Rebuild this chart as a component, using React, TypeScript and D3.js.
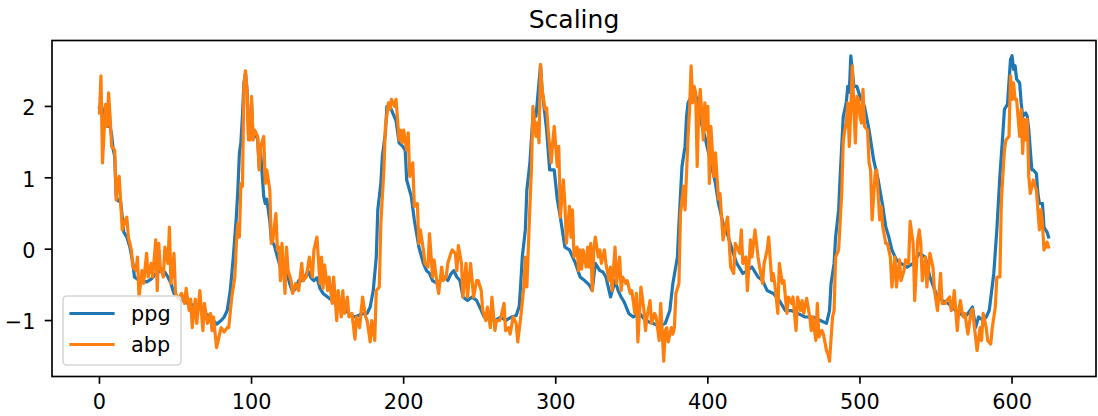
import React from "react";
import * as d3 from "d3";

// Figure geometry (px)
const WIDTH = 1098;
const HEIGHT = 416;
const PLOT = { left: 52, right: 1096, top: 40.5, bottom: 376.5 };

const title = "Scaling";
const seriesLabels = ["ppg", "abp"];
const seriesColors = ["#1f77b4", "#ff7f0e"];
const xTickValues = [0, 100, 200, 300, 400, 500, 600];
const yTickValues = [-1, 0, 1, 2];

// [sample index, scaled value]
const ppg: [number, number][] = [
  [0, 1.99], [1, 2.05], [2, 1.95], [3, 1.75], [5, 1.72], [7, 1.72], [8, 1.6], [9, 1.4], [10, 1.3],
  [11, 0.75], [12, 0.68], [14, 0.66], [15, 0.45], [16, 0.24], [18, 0.17], [20, 0.03], [22, -0.2],
  [23, -0.39], [25, -0.42], [28, -0.44], [31, -0.46], [34, -0.42], [37, -0.35], [40, -0.3],
  [43, -0.32], [45, -0.39], [47, -0.48], [49, -0.62], [52, -0.68], [55, -0.72], [58, -0.76],
  [61, -0.78], [65, -0.81], [68, -0.88], [71, -0.92], [74, -0.98], [77, -1.05], [80, -1.0],
  [82, -0.95], [84, -0.86], [86, -0.58], [88, -0.11], [90, 0.45], [91, 0.83], [92, 1.34],
  [93, 1.5], [94, 1.86], [95, 2.33], [96, 2.47], [97, 2.24], [98, 1.6], [99, 1.55], [100, 2.05],
  [101, 1.55], [102, 1.62], [104, 1.55], [105, 1.15], [106, 1.35], [108, 0.74], [109, 0.64],
  [110, 0.7], [112, 0.4], [113, 0.13], [115, 0.05], [117, -0.11], [119, -0.25], [121, -0.2],
  [123, -0.3], [125, -0.48], [127, -0.6], [129, -0.55], [131, -0.44], [134, -0.44], [137, -0.3],
  [139, -0.4], [141, -0.44], [143, -0.4], [145, -0.55], [147, -0.62], [150, -0.67], [153, -0.72],
  [156, -0.78], [159, -0.82], [162, -0.86], [165, -0.92], [168, -0.95], [171, -0.92], [174, -0.9],
  [176, -0.9], [178, -0.81], [180, -0.58], [182, -0.11], [183, 0.55], [185, 0.92], [186, 1.3],
  [188, 1.63], [189, 2.0], [191, 2.0], [193, 1.9], [195, 1.8], [197, 1.49], [199, 1.45],
  [201, 1.39], [202, 0.97], [205, 0.74], [207, 0.41], [210, 0.03], [213, -0.2], [215, -0.3],
  [217, -0.34], [219, -0.44], [222, -0.48], [224, -0.44], [227, -0.39], [229, -0.44], [231, -0.35],
  [233, -0.3], [235, -0.39], [237, -0.44], [239, -0.67], [242, -0.72], [245, -0.67], [248, -0.72],
  [250, -0.81], [253, -0.95], [256, -0.98], [260, -1.0], [264, -0.95], [267, -1.0], [271, -0.95],
  [274, -0.93], [276, -0.8], [277, -0.48], [278, -0.11], [280, 0.27], [281, 0.83], [283, 1.21],
  [285, 1.86], [287, 1.86], [288, 2.1], [290, 2.58], [291, 2.24], [294, 1.67], [296, 1.11],
  [299, 1.11], [301, 0.7], [303, 0.45], [306, 0.03], [309, -0.01], [313, -0.2], [316, -0.39],
  [319, -0.44], [322, -0.5], [324, -0.58], [326, -0.2], [329, -0.3], [331, -0.32], [333, -0.39],
  [336, -0.67], [339, -0.44], [341, -0.58], [343, -0.67], [345, -0.74], [348, -0.9], [351, -0.95],
  [355, -0.9], [359, -1.0], [364, -1.04], [368, -1.08], [372, -1.04], [375, -0.86], [377, -0.48],
  [380, -0.11], [381, 0.36], [383, 1.16], [384, 1.3], [385, 1.44], [386, 1.86], [387, 2.05],
  [389, 2.14], [391, 2.2], [393, 2.1], [395, 1.82], [398, 1.58], [400, 1.39], [403, 1.11],
  [405, 0.92], [407, 0.64], [410, 0.36], [413, 0.2], [416, -0.01], [419, -0.2], [423, -0.34],
  [426, -0.3], [429, -0.25], [433, -0.39], [436, -0.44], [439, -0.58], [443, -0.62], [447, -0.72],
  [451, -0.86], [455, -0.86], [459, -0.9], [464, -0.95], [469, -0.95], [474, -1.0], [478, -1.04],
  [480, -0.86], [481, -0.48], [483, -0.2], [484, 0.17], [486, 0.55], [487, 1.02], [489, 1.85],
  [491, 2.05], [492, 2.28], [493, 2.2], [494, 2.71], [496, 2.28], [498, 2.28], [500, 2.14],
  [503, 2.0], [506, 1.67], [509, 1.25], [512, 0.97], [515, 0.6], [517, 0.31], [519, 0.17],
  [521, -0.01], [524, -0.15], [527, -0.2], [531, -0.25], [535, -0.2], [539, -0.06], [543, -0.11],
  [546, -0.39], [550, -0.62], [554, -0.72], [558, -0.76], [563, -0.86], [566, -0.9], [569, -0.95],
  [571, -0.9], [574, -0.81], [576, -1.1], [578, -0.95], [581, -1.0], [583, -0.95], [585, -0.86],
  [588, -0.34], [590, 0.27], [592, 1.02], [594, 1.63], [595, 1.96], [597, 2.03], [599, 2.66],
  [600, 2.71], [601, 2.52], [602, 2.57], [603, 2.38], [605, 2.33], [606, 2.05], [607, 1.86],
  [609, 1.91], [610, 1.86], [611, 1.67], [613, 1.11], [614, 1.11], [616, 1.06], [617, 0.78],
  [618, 0.64], [620, 0.64], [621, 0.31], [622, 0.27], [623, 0.24], [624, 0.17],
];

const abp: [number, number][] = [
  [0, 1.91], [1, 2.43], [2, 1.21], [4, 2.03], [5, 1.72], [6, 2.19], [7, 1.86], [8, 1.44], [10, 1.39],
  [11, 0.69], [12, 0.93], [13, 1.02], [14, 0.64], [15, 0.27], [17, 0.41], [18, 0.45], [19, 0.17],
  [21, -0.01], [22, -0.25], [24, -0.3], [25, -0.11], [26, -0.67], [28, -0.3], [29, -0.48],
  [31, -0.06], [32, -0.39], [34, -0.2], [35, -0.39], [37, 0.13], [38, -0.58], [39, 0.08],
  [40, -0.25], [42, -0.39], [43, 0.03], [45, -0.2], [46, 0.31], [47, -0.48], [49, -0.06],
  [50, -0.62], [51, -0.67], [52, -0.69], [54, -0.62], [56, -0.76], [57, -0.55], [59, -0.86],
  [60, -0.7], [61, -1.1], [63, -0.7], [64, -1.04], [66, -0.58], [68, -1.14], [69, -0.76],
  [71, -1.04], [73, -0.9], [74, -1.14], [75, -0.95], [77, -1.38], [79, -1.19], [80, -1.1],
  [82, -1.16], [84, -1.1], [85, -1.1], [87, -0.67], [89, -0.39], [90, 0.08], [91, 0.36], [92, 0.17],
  [93, 0.92], [94, 0.88], [95, 2.3], [96, 2.5], [97, 2.24], [98, 1.53], [99, 1.53], [100, 2.14],
  [101, 1.53], [102, 1.67], [104, 1.58], [105, 1.11], [106, 1.44], [108, 1.58], [109, 0.92],
  [110, 1.11], [112, 0.83], [113, 0.08], [114, 0.13], [116, 0.5], [117, -0.01], [118, 0.03],
  [119, -0.44], [120, 0.08], [122, -0.62], [123, 0.03], [124, -0.3], [126, -0.44], [127, -0.62],
  [129, -0.48], [131, -0.58], [133, -0.2], [134, -0.44], [136, -0.39], [138, -0.11], [140, -0.39],
  [141, -0.01], [143, 0.17], [145, -0.48], [146, -0.11], [147, -0.55], [148, -0.22], [150, -0.58],
  [151, -0.39], [153, -0.76], [154, -0.39], [156, -1.0], [157, -0.58], [159, -0.95], [160, -0.58],
  [161, -0.9], [163, -0.67], [164, -0.95], [166, -0.9], [168, -1.26], [169, -0.95], [171, -1.1],
  [173, -0.67], [175, -0.95], [176, -1.0], [178, -1.3], [179, -1.0], [181, -1.28], [182, -0.58],
  [184, -0.53], [185, 0.36], [187, 1.11], [188, 1.72], [190, 2.05], [191, 1.96], [192, 2.1],
  [194, 2.0], [195, 2.1], [197, 1.53], [198, 1.67], [199, 1.49], [200, 1.67], [202, 1.39],
  [203, 1.63], [204, 1.02], [206, 1.21], [207, 0.6], [209, 0.64], [210, 0.08], [211, 0.27],
  [213, -0.01], [214, -0.2], [216, -0.25], [217, 0.22], [219, -0.39], [220, -0.15], [222, -0.48],
  [223, -0.62], [225, -0.25], [226, -0.44], [228, -0.39], [229, -0.2], [231, -0.06], [232, -0.01],
  [234, -0.06], [235, -0.3], [236, 0.05], [238, -0.2], [239, -0.67], [241, -0.2], [242, -0.67],
  [244, -0.2], [246, -0.67], [248, -0.44], [249, -0.44], [251, -0.58], [252, -0.86], [254, -1.0],
  [255, -0.81], [257, -1.1], [258, -0.67], [260, -1.14], [261, -1.0], [263, -1.0], [264, -0.95],
  [266, -0.76], [267, -1.14], [269, -1.1], [270, -1.19], [272, -0.95], [274, -1.04], [275, -1.3],
  [277, -0.95], [279, -0.53], [280, -0.11], [281, -0.53], [283, 0.6], [284, 1.11], [285, 2.0],
  [287, 1.58], [288, 1.77], [289, 1.49], [290, 2.59], [291, 2.24], [293, 1.96], [294, 1.98],
  [295, 1.67], [297, 1.21], [298, 1.49], [299, 1.72], [301, 1.16], [302, 1.44], [303, 0.45],
  [305, 0.97], [306, 0.64], [307, 0.08], [309, 0.6], [310, 0.17], [311, 0.55], [312, -0.11],
  [314, 0.03], [315, -0.3], [316, -0.01], [317, -0.28], [318, -0.01], [320, -0.25], [321, 0.03],
  [322, -0.25], [323, 0.08], [324, -0.58], [325, -0.01], [326, 0.17], [328, -0.11], [329, -0.01],
  [330, -0.2], [332, -0.01], [333, -0.2], [335, -0.44], [336, -0.25], [337, -0.58], [339, 0.03],
  [340, -0.48], [342, -0.11], [343, -0.58], [344, -0.39], [346, -0.48], [347, -0.44], [349, -0.62],
  [350, -0.58], [352, -0.9], [353, -0.62], [354, -1.3], [356, -0.53], [358, -0.86], [359, -1.14],
  [360, -0.95], [362, -0.72], [363, -1.04], [365, -0.9], [366, -0.95], [368, -1.28], [369, -0.76],
  [371, -1.57], [372, -1.14], [373, -1.1], [374, -1.3], [376, -1.1], [377, -1.19], [378, -1.1],
  [379, -0.62], [381, -0.48], [382, 0.5], [384, 0.88], [385, 0.55], [387, 1.58], [388, 1.96],
  [389, 2.57], [390, 2.05], [391, 2.28], [392, 2.19], [393, 1.16], [394, 1.96], [395, 2.24],
  [397, 1.53], [398, 2.05], [399, 1.67], [400, 2.0], [401, 0.92], [402, 1.72], [404, 1.02],
  [405, 1.35], [407, 0.7], [408, 0.78], [410, 0.13], [412, 0.36], [413, 0.45], [415, -0.25],
  [417, -0.34], [418, 0.08], [420, -0.01], [421, -0.06], [422, 0.27], [423, -0.2], [425, -0.11],
  [426, -0.58], [428, 0.13], [429, -0.11], [431, 0.27], [433, -0.11], [434, -0.25], [436, -0.48],
  [437, -0.2], [439, -0.01], [440, 0.17], [442, -0.44], [443, -0.34], [444, -0.48], [446, -0.9],
  [447, -0.2], [449, -0.48], [450, -0.44], [452, -0.9], [453, -0.67], [455, -0.76], [456, -0.67],
  [458, -1.14], [459, -0.67], [461, -0.86], [462, -0.72], [463, -0.9], [465, -0.69], [467, -0.95],
  [468, -1.14], [469, -0.95], [471, -1.28], [472, -0.76], [473, -1.23], [475, -1.14], [476, -1.19],
  [478, -1.42], [479, -1.47], [480, -1.57], [482, -0.95], [483, -0.86], [484, -0.11], [486, -0.01],
  [488, 0.78], [489, 1.5], [490, 1.67], [491, 1.77], [492, 2.05], [493, 1.44], [494, 1.96],
  [495, 2.57], [496, 1.96], [497, 1.49], [498, 2.14], [499, 2.1], [500, 1.86], [501, 1.77],
  [502, 2.24], [503, 1.72], [505, 1.67], [506, 1.21], [507, 1.11], [508, 0.41], [510, 1.06],
  [511, 1.11], [513, 0.41], [514, 0.6], [515, 0.31], [517, 0.08], [518, 0.08], [520, -0.11],
  [521, -0.53], [523, -0.11], [524, -0.53], [526, -0.15], [527, -0.44], [529, -0.3], [530, -0.15],
  [532, -0.2], [533, 0.39], [535, 0.08], [536, -0.72], [538, 0.13], [539, 0.27], [540, 0.08],
  [541, -0.44], [543, -0.11], [544, -0.53], [546, -0.06], [548, -0.25], [549, -0.58], [551, -0.86],
  [553, -0.34], [554, -0.76], [556, -0.76], [557, -0.72], [559, -0.67], [560, -0.86], [561, -0.81],
  [562, -0.58], [564, -1.14], [565, -0.86], [566, -0.72], [567, -0.86], [568, -0.95], [569, -0.9],
  [571, -1.19], [573, -0.88], [574, -0.84], [576, -1.23], [577, -1.42], [579, -1.1], [580, -1.28],
  [581, -0.9], [583, -1.1], [584, -1.28], [586, -1.33], [587, -1.1], [589, -0.81], [590, -0.39],
  [592, -0.39], [593, 0.69], [595, 1.39], [596, 1.53], [598, 1.58], [599, 2.43], [600, 2.1],
  [601, 2.33], [602, 2.1], [603, 2.1], [605, 1.58], [606, 1.96], [607, 1.34], [608, 1.82],
  [609, 1.53], [610, 1.82], [611, 1.02], [612, 0.78], [614, 0.97], [616, 0.83], [617, 0.55],
  [618, 0.27], [619, 0.55], [620, 0.36], [621, -0.01], [622, 0.03], [623, 0.1], [624, 0.03],
];

const FONT = "'DejaVu Sans', Verdana, sans-serif";
const TICK_FONT = 20.8;
const TITLE_FONT = 25;
const TICK_LEN = 7.3;
const AXIS_W = 1.67;
const LINE_W = 3.2;

const fmt = (v: number) => (v < 0 ? "\u2212" + Math.abs(v) : String(v));

export default function App() {
  const series = [ppg, abp];
  const all = series.flat();
  const [xMin, xMax] = d3.extent(all, (d) => d[0]) as [number, number];
  const [yMin, yMax] = d3.extent(all, (d) => d[1]) as [number, number];
  const xPad = (xMax - xMin) * 0.05;
  const yPad = (yMax - yMin) * 0.05;

  const x = d3.scaleLinear().domain([xMin - xPad, xMax + xPad]).range([PLOT.left, PLOT.right]);
  const y = d3.scaleLinear().domain([yMin - yPad, yMax + yPad]).range([PLOT.bottom, PLOT.top]);

  const line = d3
    .line<[number, number]>()
    .x((d) => x(d[0]))
    .y((d) => y(d[1]));

  // legend layout
  const lg = { x: 63, y: 296, w: 118, h: 69 };
  const rowY = [313.5, 344.5];

  return (
    <svg
      width={WIDTH}
      height={HEIGHT}
      viewBox={`0 0 ${WIDTH} ${HEIGHT}`}
      style={{ position: "absolute", left: 0, top: 0, background: "#fff", display: "block" }}
      fontFamily={FONT}
    >
      <defs>
        <clipPath id="plot-area">
          <rect x={PLOT.left} y={PLOT.top} width={PLOT.right - PLOT.left} height={PLOT.bottom - PLOT.top} />
        </clipPath>
      </defs>

      <text x={(PLOT.left + PLOT.right) / 2} y={28.3} fontSize={TITLE_FONT} textAnchor="middle" fill="#000">
        {title}
      </text>

      <g clipPath="url(#plot-area)">
        {series.map((s, i) => (
          <path
            key={seriesLabels[i]}
            d={line(s) || ""}
            fill="none"
            stroke={seriesColors[i]}
            strokeWidth={LINE_W}
            strokeLinejoin="round"
            strokeLinecap="square"
          />
        ))}
      </g>

      {/* x axis ticks */}
      {xTickValues.map((t) => (
        <g key={`x${t}`}>
          <line x1={x(t)} x2={x(t)} y1={PLOT.bottom} y2={PLOT.bottom + TICK_LEN} stroke="#000" strokeWidth={AXIS_W} />
          <text x={x(t)} y={409} fontSize={TICK_FONT} textAnchor="middle" fill="#000">
            {fmt(t)}
          </text>
        </g>
      ))}

      {/* y axis ticks */}
      {yTickValues.map((t) => (
        <g key={`y${t}`}>
          <line x1={PLOT.left - TICK_LEN} x2={PLOT.left} y1={y(t)} y2={y(t)} stroke="#000" strokeWidth={AXIS_W} />
          <text x={35.5} y={y(t) + 8.7} fontSize={TICK_FONT} textAnchor="end" fill="#000">
            {fmt(t)}
          </text>
        </g>
      ))}

      <rect
        x={PLOT.left}
        y={PLOT.top}
        width={PLOT.right - PLOT.left}
        height={PLOT.bottom - PLOT.top}
        fill="none"
        stroke="#000"
        strokeWidth={AXIS_W}
      />

      {/* legend */}
      <rect
        x={lg.x}
        y={lg.y}
        width={lg.w}
        height={lg.h}
        rx={4}
        ry={4}
        fill="#fff"
        fillOpacity={0.8}
        stroke="#d6d6d6"
        strokeWidth={1.6}
      />
      {seriesLabels.map((name, i) => (
        <g key={`lg${name}`}>
          <line
            x1={71}
            x2={113}
            y1={rowY[i]}
            y2={rowY[i]}
            stroke={seriesColors[i]}
            strokeWidth={LINE_W}
            strokeLinecap="square"
          />
          <text x={131} y={rowY[i] + 7.5} fontSize={TICK_FONT} fill="#000">
            {name}
          </text>
        </g>
      ))}
    </svg>
  );
}
